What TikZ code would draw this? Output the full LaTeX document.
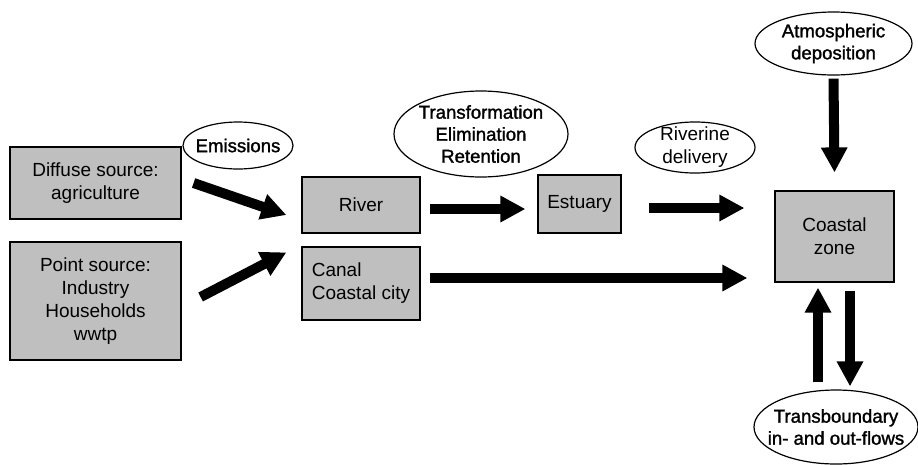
\documentclass[tikz,border=0pt]{standalone}
\usepackage{fontspec}
\setmainfont{Liberation Sans}
\newfontfamily\heavyfont[FakeBold=1.5]{Liberation Sans}
\usetikzlibrary{arrows.meta,shapes.geometric}

\begin{document}
\begin{tikzpicture}[
        x=1pt, y=-1pt,
        font=\fontsize{19}{23}\selectfont,
        pool/.style={draw, line width=1.2pt, fill=black!25, align=center, inner sep=0pt},
        proc/.style={draw, ellipse, line width=1.2pt, align=center, inner sep=-40pt},
        heavy/.style={font=\heavyfont\fontsize{18.6}{22}\selectfont},
        flux/.style={line width=10pt, -{Triangle[width=25pt,length=25pt]}}
    ]
        \useasboundingbox (0,0) rectangle (918,464);

        % sources and water bodies
        \node[pool, minimum width=171pt, minimum height=72pt] (diffuse) at (95.5,183) {Diffuse source:\\agriculture};
        \node[pool, minimum width=171pt, minimum height=118pt] (point) at (95.5,301) {Point source:\\Industry\\Households\\wwtp};
        \node[pool, minimum width=118pt, minimum height=56pt] (river) at (361,205) {River};
        \node[pool, align=left, minimum width=118pt, minimum height=73pt] (canal) at (361,283.5) {Canal\\Coastal city};
        \node[pool, minimum width=83pt, minimum height=58pt] (estuary) at (579.5,204) {Estuary};
        \node[pool, minimum width=119pt, minimum height=91pt] (coastal) at (834.5,236.5) {Coastal\\zone};

        % process labels
        \node[proc, heavy, minimum width=110pt, minimum height=47pt] (emis) at (238,145.5) {Emissions};
        \node[proc, heavy, minimum width=174pt, minimum height=86pt] (trans) at (481,134) {Transformation\\Elimination\\Retention};
        \node[proc, minimum width=120pt, minimum height=51pt] (rivdel) at (695,147.5) {Riverine\\delivery};
        \node[proc, heavy, minimum width=157pt, minimum height=63pt] (atmos) at (833.5,43.5) {Atmospheric\\deposition};
        \node[proc, heavy, minimum width=164pt, minimum height=74pt] (transb) at (836,427) {Transboundary\\in- and out-flows};

        % loads into river and canal
        \draw[flux] ([xshift=12pt]diffuse.east) -- ([xshift=-15pt,yshift=-10pt]river.west);
        \draw[flux] ([xshift=19pt,yshift=4pt]point.east) -- ([xshift=-15pt,yshift=-6pt]canal.north west);

        % delivery to the coast
        \draw[flux] ([xshift=9pt,yshift=-4pt]river.east) coordinate (r0) -- ([xshift=-12pt]estuary.west |- r0);
        \draw[flux] ([xshift=27pt,yshift=-4pt]estuary.east) coordinate (e0) -- ([xshift=-30pt]coastal.west |- e0);
        \draw[flux] ([xshift=9pt,yshift=5.5pt]canal.east) coordinate (c0) -- ([xshift=-27pt]coastal.west |- c0);
        \draw[flux] ([yshift=-3pt]atmos.south) -- ([yshift=18pt]coastal.north);

        % exchange across the boundary
        \draw[flux] ([xshift=-18pt,yshift=7pt]transb.north) -- ([xshift=-16.5pt,yshift=-5pt]coastal.south);
        \draw[flux] ([xshift=15.5pt,yshift=-8pt]coastal.south) -- ([xshift=14pt,yshift=3pt]transb.north);
    \end{tikzpicture}
\end{document}
